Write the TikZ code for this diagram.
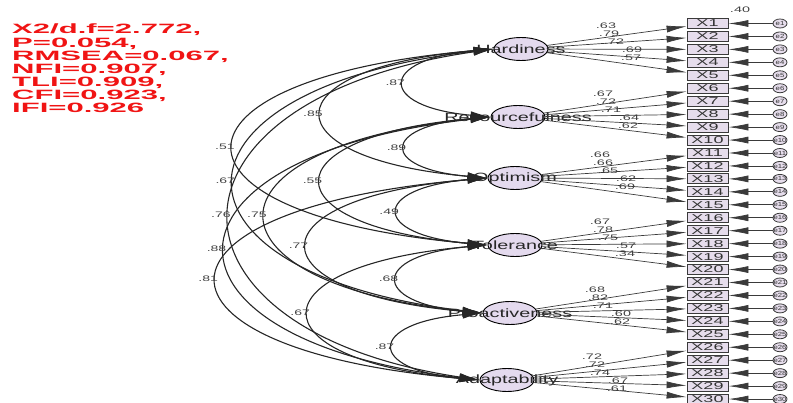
\documentclass[tikz,border=0pt]{standalone}
\usepackage{fontspec}
\setmainfont{Liberation Sans}
\usepackage{graphicx}
\usetikzlibrary{arrows.meta}
\usetikzlibrary{shapes.geometric}
\usetikzlibrary{math}
\usetikzlibrary{calc}

\definecolor{latfill}{HTML}{E4DAEE}
\definecolor{obsfill}{HTML}{E6DDEC}
\definecolor{linegray}{HTML}{3A3A3A}
\definecolor{fitred}{HTML}{F01414}

% text in the reference is stretched sideways
\newcommand{\wide}[2][1.8]{\scalebox{#1}[1]{#2}}

\tikzset{
  latent/.style={ellipse, draw=black, line width=0.9pt, fill=latfill,
    minimum width=54pt, minimum height=23pt, inner sep=0pt},
  latlabel/.style={font=\fontsize{12}{12}\selectfont, text=black!85, inner sep=0pt},
  observed/.style={rectangle, draw=linegray, line width=0.8pt, fill=obsfill,
    minimum width=41pt, minimum height=10pt, inner sep=0pt,
    font=\fontsize{10}{10}\selectfont, text=black!80},
  errorvar/.style={ellipse, draw=linegray, line width=0.8pt, fill=obsfill,
    minimum width=14pt, minimum height=9pt, inner sep=0pt},
  errlabel/.style={font=\fontsize{6}{6}\selectfont, text=black!80, inner sep=0pt},
  loading/.style={draw=linegray, line width=0.7pt, -{Latex[length=20pt,width=7pt]}},
  covar/.style={draw=black!85, line width=1.1pt,
    {Latex[length=20pt,width=8pt]}-{Latex[length=20pt,width=8pt]}},
  coef/.style={font=\fontsize{8}{8}\selectfont, text=black!75, inner sep=0.5pt},
  fitstats/.style={font=\bfseries\fontsize{13.5}{13.1}\selectfont, text=fitred,
    align=left, inner sep=0pt},
}

\begin{document}
\begin{tikzpicture}[x=1pt, y=-1pt]

  \useasboundingbox (0,0) rectangle (793,403);

  % fit indices
  \node[fitstats, anchor=north west] (fit) at (12,24)
    {\wide[2.3]{X2/d.f=2.772,}\\ \wide[2.3]{P=0.054,}\\ \wide[2.3]{RMSEA=0.067,}\\
     \wide[2.3]{NFI=0.907,}\\ \wide[2.3]{TLI=0.909,}\\ \wide[2.3]{CFI=0.923,}\\
     \wide[2.3]{IFI=0.926}};

  % factors
  \foreach \f/\name/\cx/\cy in {H/Hardiness/521/49, R/Resourcefulness/518/117,
      O/Optimism/515/178, T/Tolerance/515/245, P/Proactiveness/510/313,
      A/Adaptability/507/380}
    \node[latent, label={[latlabel]center:\wide[1.65]{\name}}] (\f) at (\cx,\cy) {};

  % correlations between factors
  \foreach \a/\b/\xm/\v in {H/R/405/.87, R/O/407/.89, O/T/400/.49, T/P/400/.68,
      P/A/397/.87, H/O/323/.85, R/T/323/.55, O/P/310/.77, T/A/312/.67,
      H/T/235/.51, R/P/268/.75, O/A/220/.81, H/P/236/.67, R/A/228/.88,
      H/A/232/.76}{
    \tikzmath{\xc = (\xm - 122)/0.75;}
    \coordinate (c1) at ($(\a.west)!0.15!(\b.west)$);
    \coordinate (c2) at ($(\b.west)!0.15!(\a.west)$);
    \draw[covar] (\a.west) .. controls (\xc,0 |- c1) and (\xc,0 |- c2)
      .. (\b.west) node[coef, pos=0.5, left] {\wide[1.75]{\v}};
  }

  % indicators and their errors
  \foreach \i in {1,...,30}{
    \pgfmathsetmacro{\yy}{23.5 + (\i-1)*12.95}
    \node[observed] (x\i) at (707.5,\yy) {\wide{X\i}};
    \node[errorvar, label={[errlabel]center:\wide[1.3]{e\i}}] (e\i) at (780,\yy) {};
    \draw[loading] (e\i) -- (x\i);
  }
  \node[coef] (r1) at (740,10) {\wide{.40}};

  % loadings
  \foreach \v [count=\n] in {.63,.79,.72,.69,.57, .67,.72,.71,.64,.62,
      .66,.66,.65,.62,.69, .67,.78,.75,.57,.34, .68,.82,.71,.60,.62,
      .72,.72,.74,.67,.61}{
    \pgfmathsetmacro{\f}{{"H","R","O","T","P","A"}[int((\n-1)/5)]}
    \pgfmathsetmacro{\dx}{{85,88,93,111,110}[int(mod(\n-1,5))]}
    \pgfmathsetmacro{\dy}{{-23,-15,-7,1,9}[int(mod(\n-1,5))]}
    \draw[loading] (\f) -- (x\n);
    \node[coef] (l\n) at ($(\f)+(\dx,\dy)$) {\wide{\v}};
  }

\end{tikzpicture}
\end{document}
